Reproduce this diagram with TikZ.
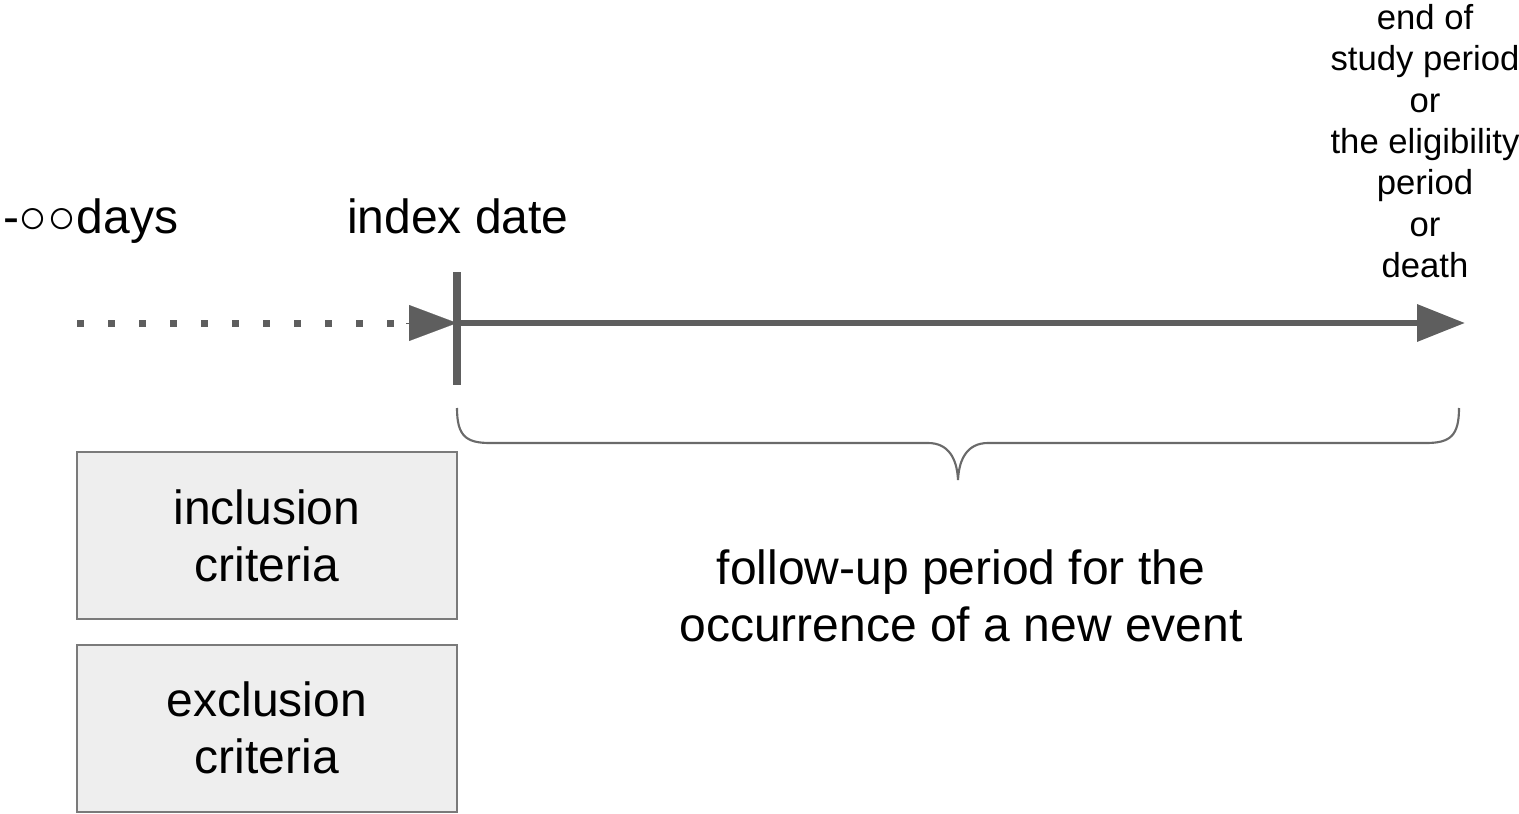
\documentclass[tikz,border=0pt]{standalone}
\usepackage{fontspec}
\setmainfont{Liberation Sans}
\usetikzlibrary{arrows.meta}
\definecolor{linegray}{HTML}{5E5E5E}
\definecolor{bracegray}{HTML}{6A6A6A}
\definecolor{boxfill}{HTML}{EEEEEE}
\definecolor{boxline}{HTML}{7A7A7A}
\begin{document}
\begin{tikzpicture}[x=0.75pt,y=-0.75pt,
  bigtext/.style={font=\fontsize{36}{42.75}\selectfont, inner sep=0pt, outer sep=0pt, align=center},
  smalltext/.style={font=\fontsize{26}{31.1}\selectfont, inner sep=0pt, outer sep=0pt, align=center},
  critbox/.style={draw=boxline, fill=boxfill, line width=1.5pt, minimum width=285pt,
    minimum height=125.25pt, inner sep=0pt, outer sep=0pt, align=center,
    font=\fontsize{36}{42.75}\selectfont},
  timeline/.style={draw=linegray, line width=5pt},
  dotline/.style={draw=linegray, line width=5.25pt, dash pattern=on 5.25pt off 18pt},
  tipstyle/.style={-{Triangle[length=36pt,width=27pt]}, draw=linegray, fill=linegray},
  tickline/.style={draw=linegray, line width=6pt},
  bracestyle/.style={draw=bracegray, line width=1.6pt}
]
\useasboundingbox (0,0) rectangle (1519,813);

% axis points
\coordinate (dotstart) at (77,323);
\coordinate (dotend) at (406,323);
\coordinate (index) at (457,323);
\coordinate (endpt) at (1465,323);
\coordinate (ticktop) at (457,272);
\coordinate (tickbot) at (457,385);

% labels above the axis
\node[bigtext, anchor=base west] (neginf) at (3,233) {-○○days};
\node[bigtext, anchor=base west] (indexlbl) at (347,233) {index date};
\node[smalltext, anchor=north] (endlbl) at (1425,4)
  {end of\\study period\\or\\the eligibility\\period\\or\\death};

% pre-index dotted segment and its arrow
\draw[dotline] (dotstart) -- (dotend);
\draw[tipstyle, line width=0.1pt] (dotend) -- (index);

% follow-up axis
\draw[timeline, -{Triangle[length=36pt,width=27pt]}] (index) -- (endpt);
\draw[tickline] (ticktop) -- (tickbot);

% brace under the follow-up period
\coordinate (bl) at (457,408);
\coordinate (br) at (1459,408);
\coordinate (btip) at (958,480);
\draw[bracestyle] (bl) .. controls (457,436) and (466,443) .. (490,443)
  -- (928,443) .. controls (948,443) and (957,458) .. (btip)
  .. controls (959,458) and (968,443) .. (988,443)
  -- (1426,443) .. controls (1450,443) and (1459,436) .. (br);

\node[bigtext] (followup) at (961,596)
  {follow-up period for the\\occurrence of a new event};

% criteria boxes
\node[critbox] (incl) at (267,535.5) {inclusion\\criteria};
\node[critbox] (excl) at (267,728) {exclusion\\criteria};
\end{tikzpicture}
\end{document}
